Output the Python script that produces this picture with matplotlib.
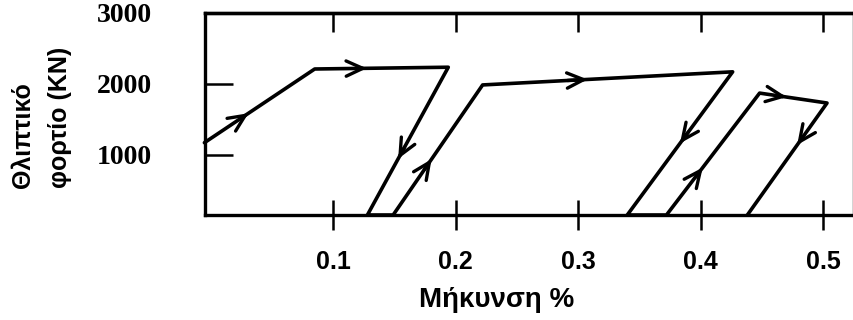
import matplotlib
matplotlib.use("Agg")
import matplotlib.pyplot as plt
import numpy as np

# load path
strain = [-0.005, 0.085, 0.194, 0.128, 0.149, 0.222, 0.426, 0.340, 0.372, 0.448, 0.503, 0.438]
load = [1170, 2210, 2235, 150, 150, 1985, 2170, 150, 150, 1870, 1730, 150]

# (segment index, fraction along segment) for direction arrows
arrow_segments = [0, 1, 2, 4, 5, 6, 8, 9, 10]
arrow_fracs = [0.40, 0.39, 0.62, 0.43, 0.42, 0.50, 0.39, 0.40, 0.375]

x_ticks = [0.1, 0.2, 0.3, 0.4, 0.5]
x_labels = ["0.1", "0.2", "0.3", "0.4", "0.5"]
y_ticks = [1000, 2000, 3000]
y_labels = ["1000", "2000", "3000"]

W, H = 854, 320
fig = plt.figure(figsize=(W / 100, H / 100), dpi=100)
ax = fig.add_axes([205 / W, 105 / H, 649 / W, 202 / H])

ax.plot(strain, load, color="black", lw=2.6, solid_joinstyle="round",
        solid_capstyle="round", clip_on=False)

for seg, f in zip(arrow_segments, arrow_fracs):
    x0, y0 = strain[seg], load[seg]
    x1, y1 = strain[seg + 1], load[seg + 1]
    head = (x0 + f * (x1 - x0), y0 + f * (y1 - y0))
    tail = (x0 + (f - 0.08) * (x1 - x0), y0 + (f - 0.08) * (y1 - y0))
    ax.annotate("", xy=head, xytext=tail,
                arrowprops=dict(arrowstyle="->,head_length=1.2,head_width=0.55",
                                color="black", lw=2.4, shrinkA=0, shrinkB=0))

ax.set_xlim(-0.0045, 0.525)
ax.set_ylim(150, 3000)

for s in ax.spines.values():
    s.set_linewidth(2.4)

ax.set_xticks(x_ticks)
ax.set_xticklabels(x_labels, fontfamily="Liberation Sans", fontweight="bold",
                   fontsize=18)
ax.tick_params(axis="x", direction="inout", length=22, width=1.8, pad=14)

ax.set_yticks(y_ticks)
ax.set_yticklabels(y_labels, fontfamily="Liberation Serif", fontweight="bold",
                   fontsize=20)
ax.tick_params(axis="y", direction="in", length=20, width=1.8, pad=38)
ax.yaxis.get_major_ticks()[-1].tick1line.set_visible(False)

top = ax.secondary_xaxis("top")
top.set_xticks(x_ticks)
top.set_xticklabels([])
top.tick_params(direction="in", length=14, width=1.8)
top.spines["top"].set_linewidth(2.4)

fig.text(497 / W, 1 - 300 / H, "Μήκυνση %", fontfamily="Liberation Sans",
         fontweight="bold", fontsize=20, ha="center", va="center")
fig.text(23 / W, 1 - 188 / H, "Θλιπτικό", fontfamily="Liberation Sans",
         fontweight="bold", fontsize=18, rotation=90, ha="center", va="bottom")
fig.text(60 / W, 1 - 188 / H, "φορτίο (KN)", fontfamily="Liberation Sans",
         fontweight="bold", fontsize=18, rotation=90, ha="center", va="bottom")

fig.savefig("out.png", dpi=100)
